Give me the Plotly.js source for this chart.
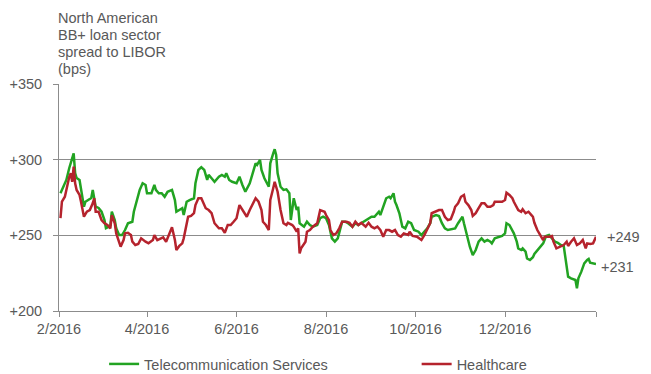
<!DOCTYPE html>
<html>
<head>
<meta charset="utf-8">
<script src="https://cdn.plot.ly/plotly-3.0.1.min.js"></script>
<style>html,body{margin:0;padding:0;background:#fff;}#chart{width:651px;height:374px;}</style>
</head>
<body>
<div id="chart"></div>
<script>
const telecomDates = ['2016-02-02','2016-02-03','2016-02-06','2016-02-08','2016-02-09','2016-02-10','2016-02-11','2016-02-12','2016-02-13','2016-02-15','2016-02-16','2016-02-18','2016-02-19','2016-02-21','2016-02-23','2016-02-24','2016-02-25','2016-02-26','2016-02-28','2016-03-01','2016-03-03','2016-03-04','2016-03-06','2016-03-07','2016-03-08','2016-03-10','2016-03-11','2016-03-13','2016-03-15','2016-03-17','2016-03-19','2016-03-22','2016-03-23','2016-03-25','2016-03-27','2016-03-29','2016-03-31','2016-04-01','2016-04-04','2016-04-06','2016-04-07','2016-04-09','2016-04-11','2016-04-13','2016-04-15','2016-04-18','2016-04-20','2016-04-21','2016-04-23','2016-04-25','2016-04-26','2016-04-28','2016-04-30','2016-05-03','2016-05-04','2016-05-06','2016-05-08','2016-05-10','2016-05-12','2016-05-13','2016-05-15','2016-05-17','2016-05-20','2016-05-22','2016-05-24','2016-05-25','2016-05-27','2016-05-29','2016-06-01','2016-06-03','2016-06-05','2016-06-07','2016-06-10','2016-06-12','2016-06-14','2016-06-15','2016-06-17','2016-06-18','2016-06-20','2016-06-23','2016-06-24','2016-06-26','2016-06-27','2016-06-28','2016-06-29','2016-07-01','2016-07-03','2016-07-05','2016-07-07','2016-07-08','2016-07-09','2016-07-10','2016-07-12','2016-07-13','2016-07-14','2016-07-17','2016-07-19','2016-07-21','2016-07-23','2016-07-26','2016-07-28','2016-07-30','2016-08-01','2016-08-03','2016-08-05','2016-08-07','2016-08-09','2016-08-12','2016-08-14','2016-08-16','2016-08-19','2016-08-21','2016-08-23','2016-08-25','2016-08-28','2016-08-30','2016-09-01','2016-09-03','2016-09-06','2016-09-07','2016-09-09','2016-09-11','2016-09-13','2016-09-14','2016-09-16','2016-09-17','2016-09-18','2016-09-20','2016-09-22','2016-09-24','2016-09-26','2016-09-28','2016-09-30','2016-10-03','2016-10-05','2016-10-06','2016-10-09','2016-10-11','2016-10-12','2016-10-15','2016-10-17','2016-10-19','2016-10-21','2016-10-23','2016-10-25','2016-10-28','2016-10-30','2016-11-02','2016-11-03','2016-11-05','2016-11-07','2016-11-09','2016-11-11','2016-11-13','2016-11-15','2016-11-17','2016-11-19','2016-11-21','2016-11-22','2016-11-24','2016-11-26','2016-11-29','2016-12-01','2016-12-02','2016-12-04','2016-12-06','2016-12-07','2016-12-09','2016-12-10','2016-12-12','2016-12-13','2016-12-15','2016-12-16','2016-12-18','2016-12-20','2016-12-21','2016-12-23','2016-12-25','2016-12-27','2016-12-29','2016-12-31','2017-01-02','2017-01-04','2017-01-06','2017-01-08','2017-01-10','2017-01-12','2017-01-13','2017-01-15','2017-01-18','2017-01-19','2017-01-20','2017-01-22','2017-01-24','2017-01-26','2017-01-27','2017-01-28','2017-01-30','2017-02-01'];
const telecomValues = [277.8,280.0,286.6,294.5,297.8,299.8,304.2,291.2,287.9,286.6,280.0,268.9,272.2,273.3,274.7,280.0,275.5,268.9,268.1,265.6,260.1,254.8,255.7,256.8,265.6,260.1,254.6,250.2,250.2,253.5,258.0,259.0,265.6,272.2,280.0,284.4,283.3,277.8,277.8,283.3,280.0,277.8,277.8,275.5,278.8,280.0,273.3,265.6,266.7,267.9,263.4,272.2,273.3,274.5,284.4,293.2,295.0,293.2,286.6,289.9,287.7,285.4,288.7,289.9,288.7,291.0,286.6,285.4,284.4,288.7,283.3,278.8,284.4,291.0,297.6,296.5,299.8,293.2,287.7,282.1,297.6,304.2,306.9,303.1,291.0,282.1,280.0,280.4,277.8,260.1,266.7,274.5,266.7,268.9,258.0,255.7,259.0,256.8,255.7,256.8,261.3,262.3,261.3,256.8,248.0,245.8,248.0,259.0,259.0,258.0,255.7,258.0,256.8,258.0,260.1,261.3,262.3,262.3,265.6,263.4,268.9,274.5,275.5,274.5,277.8,272.2,270.0,264.6,255.7,254.6,259.0,258.0,253.5,252.4,250.2,251.3,254.6,258.0,262.3,263.4,262.8,258.0,254.6,253.5,254.0,254.6,258.0,262.3,258.0,249.1,242.5,237.0,240.3,245.8,248.0,245.8,246.9,245.8,244.7,248.0,248.7,249.6,251.3,258.0,256.8,253.5,251.3,245.8,241.4,240.3,241.4,239.2,234.8,233.7,235.5,237.7,240.3,242.5,244.7,249.6,250.2,248.0,245.8,245.1,243.6,243.0,229.3,222.7,221.6,220.5,215.0,221.6,226.0,231.5,233.7,234.4,231.9,231.5,231.0];

const healthDates = ['2016-02-02','2016-02-03','2016-02-05','2016-02-06','2016-02-08','2016-02-09','2016-02-10','2016-02-11','2016-02-12','2016-02-13','2016-02-15','2016-02-16','2016-02-18','2016-02-20','2016-02-22','2016-02-24','2016-02-25','2016-02-26','2016-02-28','2016-03-01','2016-03-03','2016-03-05','2016-03-07','2016-03-08','2016-03-10','2016-03-11','2016-03-13','2016-03-14','2016-03-16','2016-03-17','2016-03-19','2016-03-21','2016-03-22','2016-03-24','2016-03-26','2016-03-28','2016-03-31','2016-04-02','2016-04-05','2016-04-06','2016-04-08','2016-04-10','2016-04-12','2016-04-14','2016-04-17','2016-04-18','2016-04-20','2016-04-21','2016-04-23','2016-04-25','2016-04-26','2016-04-29','2016-05-01','2016-05-03','2016-05-04','2016-05-06','2016-05-08','2016-05-11','2016-05-13','2016-05-15','2016-05-17','2016-05-20','2016-05-22','2016-05-24','2016-05-26','2016-05-28','2016-05-30','2016-06-01','2016-06-03','2016-06-06','2016-06-08','2016-06-10','2016-06-12','2016-06-14','2016-06-16','2016-06-18','2016-06-19','2016-06-21','2016-06-23','2016-06-24','2016-06-26','2016-06-27','2016-06-29','2016-07-01','2016-07-03','2016-07-05','2016-07-06','2016-07-09','2016-07-10','2016-07-12','2016-07-13','2016-07-14','2016-07-15','2016-07-18','2016-07-19','2016-07-21','2016-07-23','2016-07-26','2016-07-28','2016-07-31','2016-08-01','2016-08-03','2016-08-04','2016-08-06','2016-08-08','2016-08-10','2016-08-12','2016-08-15','2016-08-17','2016-08-19','2016-08-21','2016-08-23','2016-08-25','2016-08-28','2016-08-30','2016-09-01','2016-09-03','2016-09-05','2016-09-07','2016-09-09','2016-09-11','2016-09-13','2016-09-15','2016-09-17','2016-09-19','2016-09-21','2016-09-23','2016-09-26','2016-09-27','2016-09-29','2016-10-02','2016-10-05','2016-10-07','2016-10-09','2016-10-11','2016-10-12','2016-10-15','2016-10-17','2016-10-19','2016-10-21','2016-10-23','2016-10-25','2016-10-27','2016-10-28','2016-10-30','2016-11-01','2016-11-03','2016-11-04','2016-11-06','2016-11-08','2016-11-09','2016-11-11','2016-11-13','2016-11-15','2016-11-17','2016-11-19','2016-11-21','2016-11-23','2016-11-24','2016-11-26','2016-11-29','2016-12-01','2016-12-02','2016-12-04','2016-12-06','2016-12-07','2016-12-09','2016-12-10','2016-12-12','2016-12-13','2016-12-15','2016-12-17','2016-12-19','2016-12-20','2016-12-21','2016-12-23','2016-12-25','2016-12-27','2016-12-28','2016-12-31','2017-01-02','2017-01-03','2017-01-05','2017-01-07','2017-01-09','2017-01-10','2017-01-12','2017-01-13','2017-01-15','2017-01-17','2017-01-19','2017-01-21','2017-01-23','2017-01-25','2017-01-26','2017-01-28','2017-01-30','2017-01-31','2017-02-01'];
const healthValues = [261.3,272.2,275.5,280.0,288.7,291.0,285.4,295.4,284.4,280.0,276.7,272.2,262.3,265.6,266.7,271.2,274.5,265.6,265.6,260.1,258.0,256.8,254.6,263.4,258.0,251.3,244.7,242.5,246.9,251.3,251.7,250.2,245.8,243.6,244.3,248.0,245.8,244.7,246.9,250.2,246.9,248.0,248.7,245.8,252.4,255.3,246.9,240.3,243.0,244.7,248.0,262.3,262.8,264.6,270.0,274.5,274.5,267.9,266.7,264.6,258.0,254.6,254.6,251.7,256.8,256.8,259.0,261.3,270.0,265.6,262.3,266.7,271.2,274.5,272.2,266.7,259.0,256.8,253.5,273.3,281.1,285.4,278.8,266.7,258.0,256.8,258.3,256.8,255.7,252.4,254.6,238.1,241.4,245.8,252.4,253.5,255.7,258.0,266.7,265.6,263.4,260.1,253.5,250.2,251.3,254.6,259.0,259.0,258.3,255.7,259.0,256.8,258.3,255.7,258.3,255.7,254.6,255.7,253.5,249.1,253.5,253.5,252.4,253.5,250.2,249.1,251.3,250.2,252.4,249.6,249.1,246.9,250.2,254.6,258.0,264.6,265.6,266.7,266.7,262.3,260.1,260.6,265.6,268.9,271.2,275.5,276.7,272.2,270.0,266.7,262.8,264.6,267.9,271.2,271.2,268.9,268.9,270.0,272.2,272.2,272.2,273.3,278.2,276.7,274.5,272.2,268.9,266.7,265.6,267.2,264.6,265.6,263.4,262.3,258.3,253.5,250.2,246.9,249.1,249.1,249.6,245.8,241.4,242.5,243.6,243.6,245.8,243.0,245.8,248.0,243.6,244.7,246.9,241.4,244.7,244.3,244.7,246.9,249.0];

const seriesNames = ['Telecommunication Services', 'Healthcare'];
const seriesColors = ['#22a322', '#b5232d'];
const xTickVals = ['2016-02-01','2016-04-01','2016-06-01','2016-08-01','2016-10-01','2016-12-01','2017-02-01'];
const xTickText = ['2/2016','4/2016','6/2016','8/2016','10/2016','12/2016',''];
const yTickVals = [200, 250, 300, 350];
const yTickText = ['+200', '+250', '+300', '+350'];
const titleLines = ['North American', 'BB+ loan sector', 'spread to LIBOR', '(bps)'];

const FONT = 'Liberation Sans, Arial, sans-serif';
const FS = 14.5;
const GREY = '#595959';
const LINEC = '#8c8c8c';

const traces = [
  {x: telecomDates, y: telecomValues, name: seriesNames[0], type: 'scatter', mode: 'lines',
   line: {color: seriesColors[0], width: 2.5}, legend: 'legend'},
  {x: healthDates, y: healthValues, name: seriesNames[1], type: 'scatter', mode: 'lines',
   line: {color: seriesColors[1], width: 2.5}, legend: 'legend2'}
];

const lastT = telecomValues[telecomValues.length - 1];
const lastH = healthValues[healthValues.length - 1];

const legendCommon = {orientation: 'h', yanchor: 'middle', xanchor: 'left', y: -0.2335,
  font: {family: FONT, size: FS, color: GREY}, bgcolor: 'rgba(0,0,0,0)', borderwidth: 0};

// title lines, 17px apart, stacked above the plot area
const titleAnnotations = titleLines.map((t, i) => ({
  xref: 'paper', yref: 'paper', x: 0, y: 1, xanchor: 'left', yanchor: 'middle',
  xshift: -3, yshift: 66 - 17 * i, align: 'left', showarrow: false, text: t,
  font: {family: FONT, size: FS, color: GREY}
}));

const layout = {
  width: 651, height: 374,
  margin: {l: 59, r: 55, t: 84, b: 63, pad: 0, autoexpand: false},
  paper_bgcolor: '#fff', plot_bgcolor: '#fff',
  font: {family: FONT, size: FS, color: GREY},
  showlegend: true,
  legend: Object.assign({}, legendCommon, {x: 0.084}),
  legend2: Object.assign({}, legendCommon, {x: 0.666}),
  xaxis: {
    type: 'date', range: ['2016-02-01', '2017-02-01'],
    tickvals: xTickVals, ticktext: xTickText,
    showgrid: false, zeroline: false,
    showline: true, linecolor: LINEC, linewidth: 1,
    ticks: 'outside', ticklen: 5, tickcolor: LINEC, tickwidth: 1,
    tickfont: {family: FONT, size: FS, color: GREY}
  },
  yaxis: {
    range: [200, 350], tickvals: yTickVals, ticktext: yTickText,
    showgrid: true, gridcolor: LINEC, gridwidth: 1, zeroline: false,
    showline: true, linecolor: LINEC, linewidth: 1,
    ticks: 'outside', ticklen: 5, tickcolor: LINEC, tickwidth: 1,
    ticklabelstandoff: 8,
    tickfont: {family: FONT, size: FS, color: GREY}
  },
  annotations: titleAnnotations.concat([
    {xref: 'paper', yref: 'y', x: 1, y: lastH, xanchor: 'left', yanchor: 'middle', xshift: 9, yshift: 0,
     showarrow: false, text: '+' + Math.round(lastH), font: {family: FONT, size: FS, color: GREY}},
    {xref: 'paper', yref: 'y', x: 1, y: lastT, xanchor: 'left', yanchor: 'middle', xshift: 3, yshift: -3,
     showarrow: false, text: '+' + Math.round(lastT), font: {family: FONT, size: FS, color: GREY}}
  ])
};

Plotly.newPlot('chart', traces, layout, {displayModeBar: false, staticPlot: true});
</script>
</body>
</html>
